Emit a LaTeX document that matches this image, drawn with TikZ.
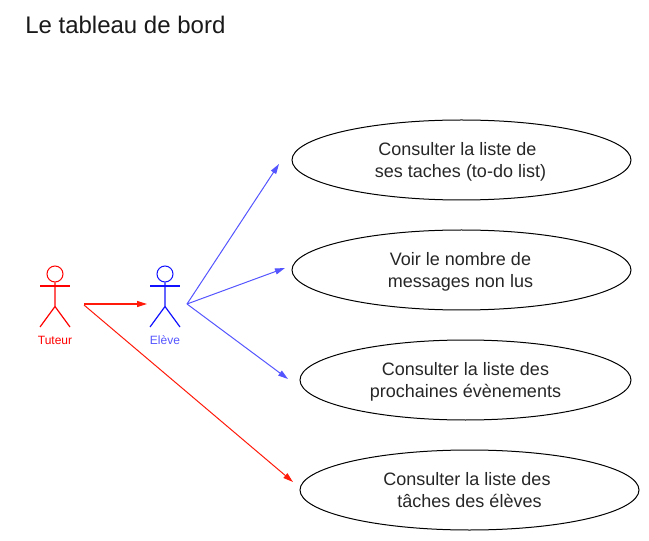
\documentclass[tikz,border=0pt]{standalone}
\usepackage{fontspec}
\setmainfont{Liberation Sans}
\usetikzlibrary{shapes.geometric,arrows.meta}
\definecolor{blueline}{HTML}{5555FF}
\definecolor{bluedark}{HTML}{1111FF}
\definecolor{redline}{HTML}{FF1A0A}
\newcommand\ucline[2][0pt]{\raisebox{-1.3pt}[\height][\depth]{#2\hspace*{#1}}}
\tikzset{
  x=0.75pt,y=-0.75pt,
  usecase/.style={draw=black,ellipse,line width=0.75pt,inner sep=0pt,align=center,font=\fontsize{13.5}{16.5}\selectfont,text=black!85},
  actorlabel/.style={font=\fontsize{9}{10}\selectfont,inner sep=0pt},
  conn/.style={line width=0.75pt,-{Triangle[length=7.5pt,width=4.5pt]}},
  limb/.style={line width=0.9pt},
}
\begin{document}
\begin{tikzpicture}
\useasboundingbox (0,0) rectangle (649,541);
\node[anchor=west,inner sep=0pt,font=\fontsize{18}{20}\selectfont,text=black!90] (title) at (25,25) {Le tableau de bord};
% use cases
\node[usecase,minimum width=254.25pt,minimum height=60pt] (u1) at (461.5,160) {\ucline[6pt]{Consulter la liste de}\\\ucline[1.5pt]{ses taches (to-do list)}};
\node[usecase,minimum width=254.25pt,minimum height=60pt] (u2) at (461.5,270) {\ucline[1.5pt]{Voir le nombre de}\\\ucline[1.5pt]{messages non lus}};
\node[usecase,minimum width=248.25pt,minimum height=60pt] (u3) at (465.5,380) {\ucline{Consulter la liste des}\\\ucline{prochaines évènements}};
\node[usecase,minimum width=254.25pt,minimum height=60pt] (u4) at (469.5,490) {Consulter la liste des\hspace*{3.75pt}\\tâches des élèves};
% Tuteur
\node[draw=red,circle,line width=0.75pt,minimum size=12pt,inner sep=0pt] (thead) at (55,274) {};
\coordinate (thip) at (55,306.5);
\coordinate (tarml) at (40,286);
\coordinate (tarmr) at (70,286);
\coordinate (tfootl) at (40,327);
\coordinate (tfootr) at (70,327);
\draw[limb,red] (thead.south) -- (thip) -- (tfootl);
\draw[limb,red] (thip) -- (tfootr);
\draw[limb,red] (tarml) -- (tarmr);
\node[actorlabel,text=red] (tlabel) at (55,340) {Tuteur};
% Eleve
\node[draw=bluedark,circle,line width=0.75pt,minimum size=12pt,inner sep=0pt] (ehead) at (165,274) {};
\coordinate (ehip) at (165,306.5);
\coordinate (earml) at (150,286);
\coordinate (earmr) at (180,286);
\coordinate (efootl) at (150,327);
\coordinate (efootr) at (180,327);
\draw[limb,bluedark] (ehead.south) -- (ehip) -- (efootl);
\draw[limb,bluedark] (ehip) -- (efootr);
\draw[limb,bluedark] (earml) -- (earmr);
\node[actorlabel,text=blueline] (elabel) at (165,340) {Elève};
% connector ends
\coordinate (tout) at (84,304);
\coordinate (tout2) at (84,305);
\coordinate (ein) at (147,304);
\coordinate (eout) at (187,304);
\coordinate (a1) at (279,164);
\coordinate (a2) at (285,268);
\coordinate (a3) at (288,379);
\coordinate (a4) at (293,482);
\draw[conn,redline,line width=0.9pt] (tout) -- (ein);
\draw[conn,redline] (tout2) -- (a4);
\draw[conn,blueline] (eout) -- (a1);
\draw[conn,blueline] (eout) -- (a2);
\draw[conn,blueline] (eout) -- (a3);
\end{tikzpicture}
\end{document}
